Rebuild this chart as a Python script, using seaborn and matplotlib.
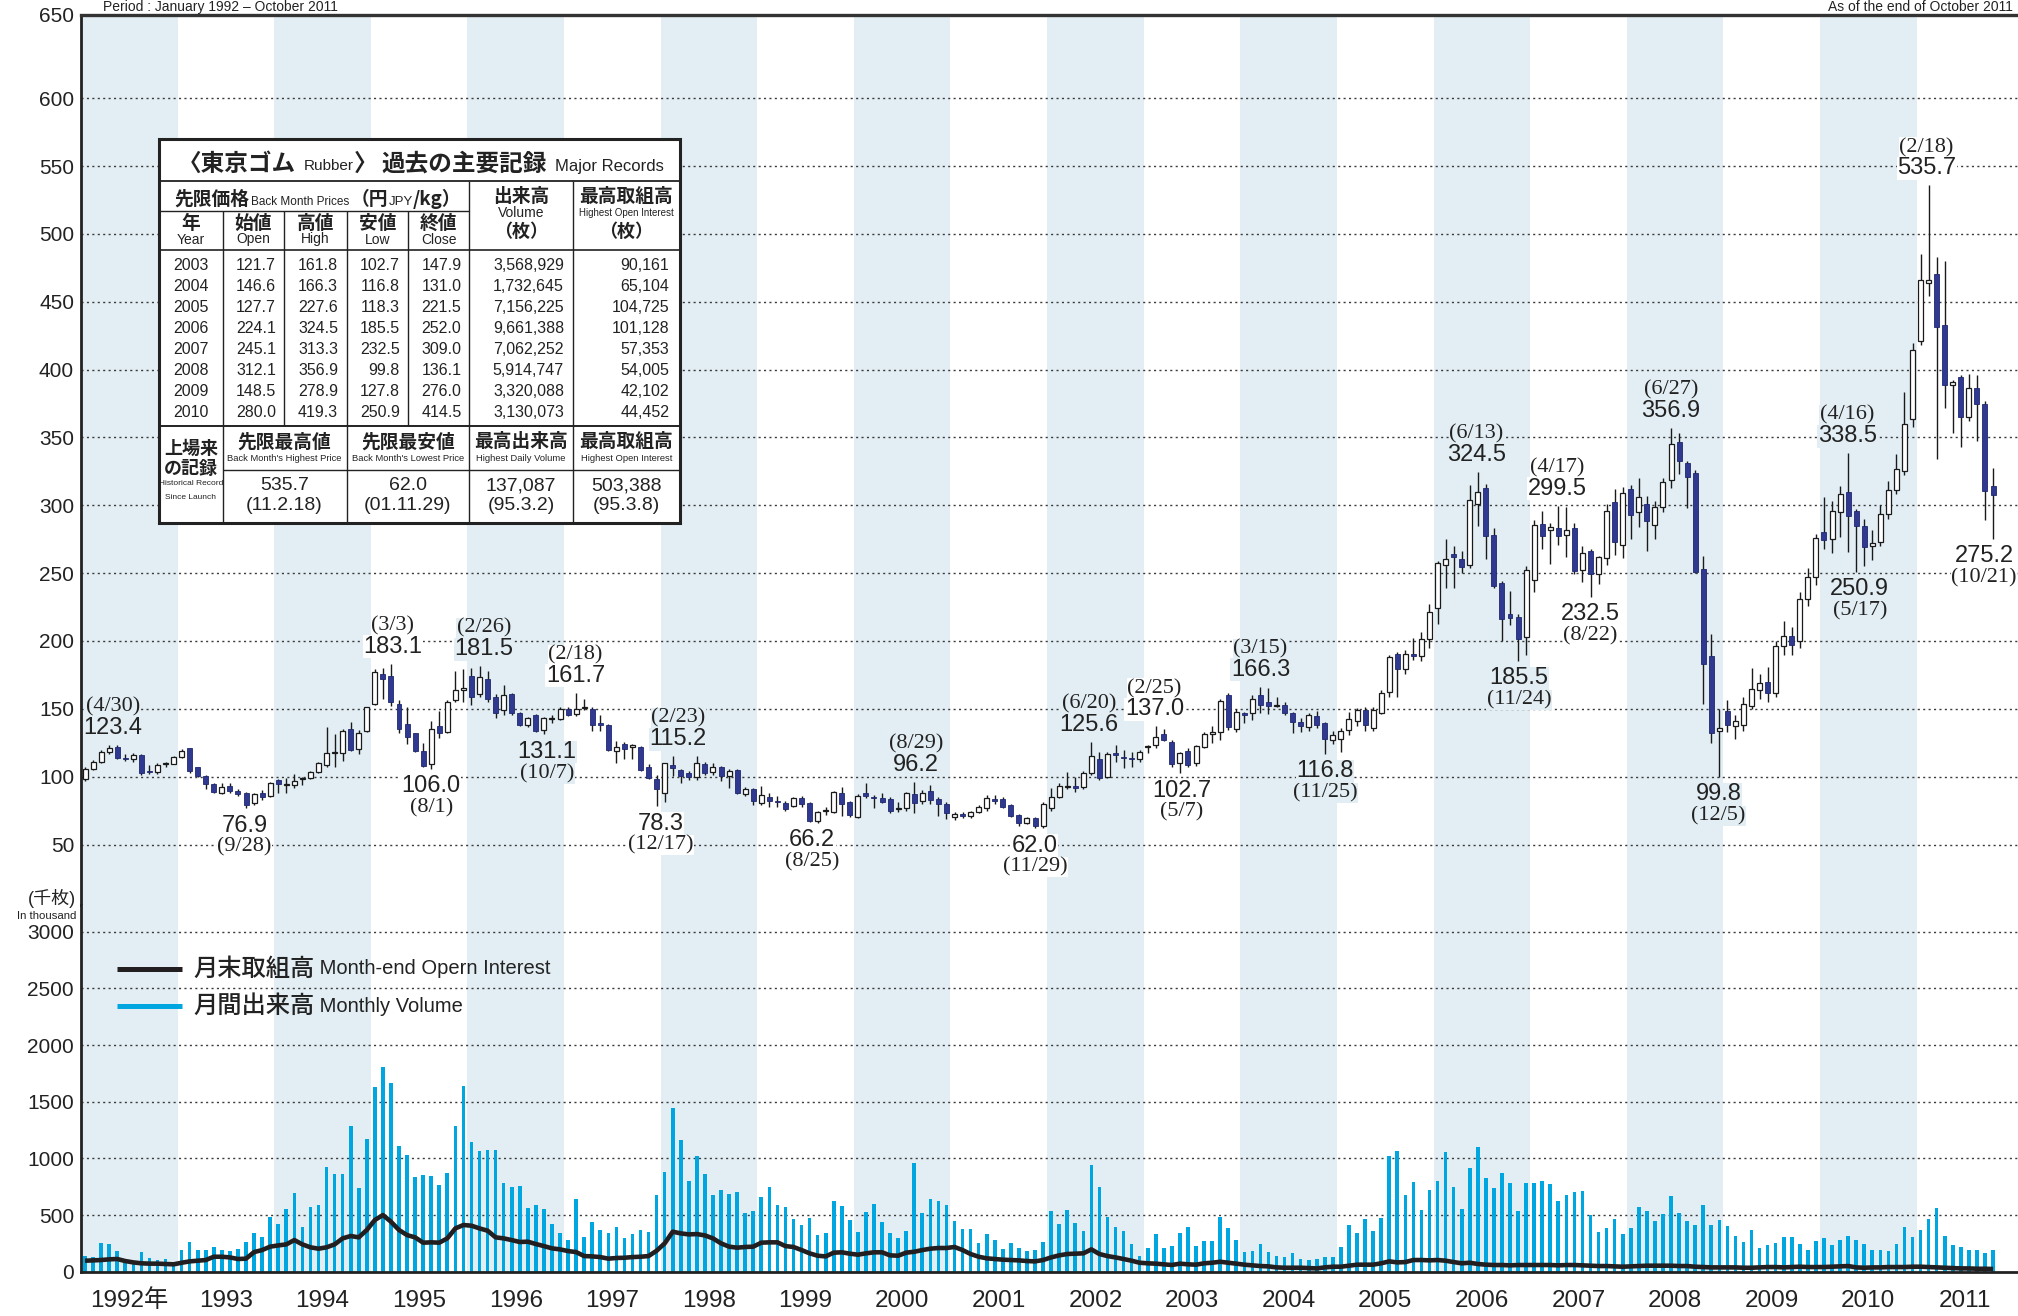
import matplotlib
matplotlib.use("Agg")
import matplotlib.pyplot as plt
from matplotlib import font_manager
from matplotlib.patches import Rectangle
import numpy as np
import seaborn as sns

# ---------------- data (monthly, Jan 1992 - Oct 2011) ----------------
years = list(range(1992, 2012))

opens = [
    98.0, 106.0, 110.5, 118.0, 122.0, 113.5, 112.7, 115.9, 104.0, 103.7, 109.3, 109.3,   # 1992
    114.7, 120.8, 106.9, 100.5, 94.6, 88.2, 93.1, 89.7, 88.2, 80.4, 88.2, 85.8,          # 1993
    97.5, 93.9, 93.6, 98.3, 98.8, 103.7, 108.6, 117.2, 117.2, 134.8, 120.1, 133.6,       # 1994
    153.4, 175.5, 174.3, 153.4, 138.7, 131.9, 119.1, 109.1, 137.2, 133.1, 156.8, 163.7,  # 1995
    174.0, 160.8, 172.3, 158.8, 149.0, 161.3, 147.1, 138.0, 145.3, 134.3, 142.6, 142.4,  # 1996
    149.7, 146.1, 150.4, 149.7, 139.7, 138.2, 119.1, 123.8, 122.0, 122.0, 106.9, 98.0,   # 1997
    88.2, 108.6, 104.9, 102.5, 99.5, 109.3, 103.2, 106.9, 100.5, 104.9, 87.3, 90.7,      # 1998
    80.4, 85.3, 81.7, 80.4, 78.7, 84.1, 80.4, 67.7, 74.8, 74.3, 88.2, 81.1,              # 1999
    70.1, 87.7, 84.7, 84.6, 83.3, 76.5, 76.7, 87.0, 82.4, 89.7, 83.3, 79.9,              # 2000
    70.6, 72.3, 71.1, 74.3, 76.7, 83.6, 83.3, 79.2, 71.8, 66.2, 69.4, 63.3,              # 2001
    76.7, 85.3, 92.4, 93.1, 92.6, 102.9, 112.7, 100.0, 117.2, 114.2, 113.5, 112.7,       # 2002
    121.7, 123.3, 131.1, 125.7, 110.3, 119.1, 109.8, 122.0, 131.1, 132.6, 160.0, 135.5,  # 2003
    146.6, 146.6, 160.5, 155.1, 152.3, 153.2, 147.3, 140.4, 136.5, 145.0, 139.3, 127.0,  # 2004
    127.7, 134.2, 140.8, 149.3, 135.9, 147.2, 162.4, 190.6, 179.3, 190.6, 188.6, 201.3,  # 2005
    224.1, 256.2, 263.8, 260.4, 256.2, 301.3, 312.5, 277.9, 242.7, 219.6, 217.5, 202.7,  # 2006
    245.1, 286.4, 281.5, 283.4, 278.2, 282.9, 252.0, 266.0, 249.0, 261.2, 302.7, 271.1,  # 2007
    312.1, 294.8, 301.3, 285.8, 298.5, 319.0, 346.3, 331.4, 323.8, 253.4, 188.6, 134.0,  # 2008
    148.5, 137.0, 137.9, 152.0, 164.0, 169.7, 161.8, 196.5, 203.5, 200.0, 231.1, 247.0,  # 2009
    280.0, 275.2, 294.8, 310.0, 296.0, 285.0, 269.9, 272.8, 293.6, 311.3, 325.5, 363.5,  # 2010
    421.2, 464.0, 470.3, 433.0, 388.3, 394.3, 364.8, 386.4, 375.0, 314.5,                # 2011
]
highs = [
    107.0, 112.0, 120.0, 123.4, 123.0, 116.7, 117.2, 117.0, 108.5, 110.0, 111.0, 115.2,
    120.3, 121.3, 107.5, 101.0, 95.0, 95.1, 95.6, 90.7, 89.0, 88.0, 90.2, 96.3,
    98.0, 99.3, 102.0, 100.0, 104.5, 111.0, 136.3, 131.4, 134.8, 140.4, 134.3, 151.5,
    179.6, 180.0, 183.1, 156.4, 151.5, 132.5, 124.5, 141.2, 148.3, 156.8, 177.9, 179.0,
    180.0, 181.5, 178.0, 161.3, 167.4, 162.0, 148.0, 144.1, 146.0, 144.0, 145.3, 151.0,
    151.0, 161.7, 157.1, 151.0, 145.3, 139.0, 126.5, 125.7, 124.0, 122.8, 109.0, 101.2,
    110.3, 115.2, 106.0, 104.0, 115.0, 111.0, 110.3, 108.0, 106.0, 106.0, 92.2, 92.0,
    93.1, 87.8, 86.0, 82.0, 85.0, 86.0, 81.0, 75.0, 77.5, 89.7, 92.2, 82.0,
    87.0, 95.6, 86.5, 88.0, 85.0, 81.6, 89.0, 96.2, 90.0, 93.9, 85.0, 81.0,
    74.3, 74.0, 75.0, 79.0, 86.5, 86.5, 85.0, 80.0, 72.5, 70.5, 70.5, 81.0,
    91.4, 95.6, 103.7, 100.0, 104.0, 125.6, 118.4, 118.0, 123.3, 120.0, 118.0, 120.0,
    123.3, 137.0, 135.5, 127.0, 118.4, 121.0, 123.5, 133.0, 137.2, 157.5, 161.8, 150.0,
    147.6, 160.0, 166.3, 165.7, 158.8, 155.0, 148.0, 143.0, 147.0, 148.3, 140.5, 134.0,
    136.0, 147.6, 150.5, 151.0, 151.0, 164.0, 190.0, 192.0, 193.0, 202.5, 206.5, 227.6,
    259.0, 275.0, 270.0, 266.0, 314.6, 324.5, 316.0, 283.0, 244.0, 237.0, 220.0, 255.0,
    289.0, 296.0, 287.0, 299.5, 299.0, 287.0, 270.0, 268.0, 263.0, 301.0, 312.0, 313.3,
    315.0, 320.0, 307.0, 303.0, 320.0, 356.9, 353.0, 333.0, 326.0, 263.0, 205.0, 150.0,
    156.8, 145.5, 159.0, 180.2, 176.0, 181.0, 200.0, 214.8, 210.0, 236.0, 254.0, 278.9,
    306.4, 303.0, 314.0, 338.5, 297.0, 290.0, 282.0, 300.0, 318.0, 338.0, 383.2, 419.3,
    485.0, 535.7, 483.0, 480.0, 392.0, 396.0, 397.0, 396.0, 377.0, 327.5,
]
lows = [
    97.0, 105.0, 110.0, 117.0, 113.0, 111.8, 110.5, 101.0, 102.0, 102.0, 107.4, 109.0,
    114.0, 102.9, 99.5, 91.2, 87.8, 87.5, 88.0, 86.0, 76.9, 79.0, 82.9, 85.0,
    87.8, 87.8, 92.0, 93.6, 98.0, 103.0, 107.4, 107.4, 111.8, 119.0, 116.7, 133.0,
    152.7, 157.6, 151.9, 131.9, 124.0, 118.4, 107.4, 106.0, 128.2, 131.9, 155.1, 155.0,
    152.7, 158.8, 155.1, 143.6, 145.3, 145.3, 137.2, 136.8, 133.0, 131.1, 139.7, 141.6,
    144.6, 145.0, 149.0, 133.8, 133.8, 119.0, 109.8, 112.7, 112.7, 104.4, 98.5, 78.3,
    81.1, 100.5, 95.6, 97.5, 97.5, 101.0, 101.0, 96.8, 91.4, 87.3, 86.0, 79.2,
    79.0, 77.5, 78.0, 75.0, 78.0, 78.0, 66.8, 66.2, 71.8, 73.0, 71.1, 70.0,
    69.4, 84.6, 76.7, 80.4, 73.0, 74.3, 75.0, 73.0, 80.0, 80.0, 71.1, 68.6,
    68.2, 69.5, 69.6, 73.0, 75.0, 79.6, 77.0, 70.0, 64.0, 65.0, 62.0, 62.5,
    75.0, 84.0, 90.7, 89.0, 90.7, 101.0, 97.5, 99.0, 111.0, 106.1, 107.4, 111.0,
    117.2, 121.0, 126.0, 107.0, 102.7, 107.0, 108.0, 121.0, 125.0, 127.4, 134.5, 133.0,
    139.2, 142.0, 147.0, 146.0, 151.0, 145.6, 131.9, 133.0, 134.0, 136.0, 116.8, 124.0,
    118.3, 131.0, 137.0, 134.0, 134.0, 146.0, 158.4, 159.0, 176.0, 186.0, 185.0, 195.0,
    212.5, 239.3, 239.0, 250.0, 254.0, 285.0, 260.4, 239.0, 199.9, 212.0, 185.5, 190.0,
    236.0, 268.0, 257.0, 271.0, 262.0, 249.0, 243.5, 232.5, 242.0, 256.0, 263.2, 261.0,
    275.0, 284.0, 266.0, 275.0, 295.0, 313.0, 323.0, 298.0, 250.0, 153.4, 125.0, 99.8,
    133.0, 127.8, 134.0, 150.0, 157.0, 155.0, 159.0, 190.0, 190.0, 195.0, 226.0, 240.9,
    268.0, 264.7, 277.0, 265.4, 250.9, 255.0, 260.0, 270.0, 290.0, 308.0, 322.0, 358.0,
    418.0, 454.3, 334.1, 372.0, 353.0, 343.2, 362.0, 347.6, 289.2, 275.2,
]
closes = [
    106.0, 111.0, 118.4, 121.5, 113.5, 113.0, 115.9, 102.9, 103.8, 108.6, 109.5, 114.2,
    119.1, 104.4, 100.5, 94.6, 88.5, 92.2, 89.5, 87.0, 79.4, 87.0, 85.3, 95.6,
    94.6, 94.0, 97.1, 98.8, 103.2, 109.8, 117.2, 117.4, 133.6, 119.6, 132.3, 151.0,
    177.2, 171.8, 155.1, 135.5, 128.9, 119.1, 108.1, 135.5, 131.9, 155.1, 163.7, 165.7,
    158.8, 173.6, 157.6, 146.6, 160.5, 147.1, 138.0, 142.9, 133.8, 142.9, 143.0, 149.7,
    145.3, 150.2, 150.9, 138.0, 138.2, 119.6, 122.0, 120.1, 123.3, 104.9, 99.3, 90.9,
    109.8, 106.1, 100.7, 99.5, 109.8, 102.9, 107.4, 100.5, 104.2, 87.7, 90.9, 82.4,
    86.5, 82.4, 81.4, 76.0, 84.1, 79.9, 67.7, 74.3, 75.1, 88.5, 79.9, 71.8,
    86.0, 86.0, 84.4, 81.1, 75.0, 76.9, 88.2, 80.4, 87.7, 82.8, 79.9, 73.0,
    72.3, 71.1, 74.3, 77.5, 84.1, 82.4, 78.0, 71.3, 65.7, 69.4, 63.3, 79.9,
    85.3, 93.4, 92.8, 91.9, 102.9, 115.2, 98.8, 116.7, 115.9, 113.5, 112.7, 118.4,
    122.8, 129.4, 127.0, 109.1, 117.2, 108.6, 122.8, 131.1, 132.6, 155.9, 136.3, 147.9,
    145.8, 157.6, 152.7, 152.2, 152.5, 147.3, 140.4, 137.0, 145.5, 138.0, 127.5, 131.0,
    134.0, 142.7, 149.3, 137.9, 149.3, 161.9, 188.0, 179.3, 190.6, 188.6, 201.3, 221.5,
    257.6, 260.4, 261.8, 254.8, 304.1, 309.7, 277.3, 240.7, 215.9, 216.8, 201.3, 252.0,
    285.8, 277.3, 284.2, 277.3, 281.5, 251.9, 264.6, 249.0, 261.8, 295.6, 273.1, 309.0,
    292.8, 306.1, 288.2, 298.5, 317.3, 345.5, 332.3, 321.0, 250.6, 183.0, 132.0, 136.1,
    138.0, 140.7, 153.9, 164.6, 168.8, 161.8, 196.2, 203.5, 197.0, 231.1, 247.0, 276.0,
    274.5, 296.0, 308.3, 292.4, 284.5, 269.0, 272.3, 293.6, 311.3, 326.8, 359.9, 414.5,
    465.8, 465.8, 431.5, 388.8, 390.7, 364.8, 386.4, 375.0, 310.3, 307.6,
]
# monthly volume, thousand contracts
volume = [
    138, 129, 253, 244, 182, 74, 65, 173, 121, 103, 112, 50,
    191, 262, 191, 191, 218, 191, 182, 200, 262, 341, 306, 485,
    420, 553, 694, 394, 570, 588, 923, 862, 862, 1285, 738, 1170,
    1629, 1806, 1665, 1109, 1029, 835, 853, 844, 765, 870, 1285, 1638,
    1144, 1065, 1073, 1073, 782, 747, 756, 562, 588, 553, 420, 341,
    279, 641, 306, 438, 368, 341, 394, 297, 332, 368, 350, 676,
    879, 1444, 1162, 800, 1020, 862, 676, 720, 685, 703, 518, 535,
    662, 747, 588, 570, 465, 412, 473, 323, 341, 623, 579, 456,
    350, 526, 597, 438, 341, 297, 359, 959, 518, 641, 623, 588,
    447, 376, 376, 253, 332, 279, 200, 253, 209, 182, 191, 262,
    535, 420, 544, 429, 359, 941, 747, 482, 394, 359, 244, 138,
    209, 332, 209, 226, 341, 394, 226, 270, 270, 482, 385, 279,
    173, 182, 244, 173, 138, 129, 165, 112, 103, 112, 129, 129,
    218, 412, 341, 465, 359, 473, 1020, 1065, 676, 791, 544, 720,
    800, 1056, 747, 553, 915, 1100, 826, 738, 870, 782, 535, 782,
    782, 800, 773, 623, 676, 703, 712, 500, 350, 385, 465, 332,
    385, 570, 535, 447, 509, 668, 518, 447, 412, 588, 412, 456,
    403, 315, 262, 368, 209, 235, 253, 306, 306, 244, 191, 270,
    297, 235, 279, 315, 279, 244, 191, 191, 182, 244, 394, 306,
    368, 465, 562, 315, 235, 218, 191, 191, 165, 191,
]
# month-end open interest, thousand contracts
open_interest = [
    97, 100, 103, 109, 112, 94, 82, 74, 71, 71, 68, 65,
    79, 91, 97, 103, 132, 132, 126, 112, 115, 173, 191, 221,
    232, 241, 279, 241, 215, 203, 215, 241, 294, 315, 303, 368,
    456, 500, 441, 368, 323, 303, 256, 259, 256, 294, 382, 412,
    406, 382, 362, 303, 294, 279, 262, 265, 244, 226, 206, 197,
    182, 173, 138, 135, 129, 115, 121, 123, 129, 132, 138, 185,
    250, 353, 338, 329, 332, 320, 294, 250, 221, 212, 218, 221,
    256, 259, 259, 226, 218, 191, 162, 141, 135, 168, 171, 159,
    150, 162, 171, 171, 144, 141, 168, 176, 191, 203, 209, 209,
    218, 191, 156, 132, 118, 112, 106, 103, 100, 94, 91, 103,
    126, 144, 156, 159, 162, 197, 156, 138, 126, 112, 97, 79,
    74, 71, 65, 59, 71, 65, 62, 74, 79, 88, 79, 71,
    62, 56, 50, 47, 38, 35, 35, 35, 32, 29, 38, 44,
    44, 53, 62, 62, 62, 74, 91, 82, 85, 103, 103, 100,
    103, 97, 85, 74, 79, 68, 62, 59, 59, 56, 59, 59,
    59, 59, 59, 56, 59, 59, 56, 53, 50, 50, 47, 44,
    47, 50, 53, 53, 53, 53, 50, 50, 44, 41, 38, 38,
    38, 38, 35, 35, 38, 41, 41, 38, 41, 44, 41, 41,
    41, 44, 47, 50, 38, 35, 38, 38, 41, 41, 41, 44,
    44, 41, 38, 35, 32, 29, 29, 26, 26, 24,
]

# highs / lows picked out on the chart (month index, kind, date)
ann_month = [3, 20, 38, 43, 49, 57, 61, 73, 71, 91, 103, 118, 125, 133, 136, 146, 154,
             173, 178, 183, 187, 197, 203, 219, 220, 229, 237]
ann_kind = ['hi', 'lo', 'hi', 'lo', 'hi', 'lo', 'hi', 'hi', 'lo', 'lo', 'hi', 'lo', 'hi', 'hi',
            'lo', 'hi', 'lo', 'hi', 'lo', 'hi', 'lo', 'hi', 'lo', 'hi', 'lo', 'hi', 'lo']
ann_date = ['4/30', '9/28', '3/3', '8/1', '2/26', '10/7', '2/18', '2/23', '12/17', '8/25',
            '8/29', '11/29', '6/20', '2/25', '5/7', '3/15', '11/25', '6/13', '11/24', '4/17',
            '8/22', '6/27', '12/5', '4/16', '5/17', '2/18', '10/21']
ann_dx = [4, -1.5, 1.6, 0, 4.5, 3, -0.7, 5.6, 3.7, -5.5, 2, 0, -2.5, -1.3, 1.7, 0, 0,
          -1.5, 0.8, -1, 0, 0, -1, -1, 3.6, -2, -9]

# record table
tbl_year = [2003, 2004, 2005, 2006, 2007, 2008, 2009, 2010]
tbl_open = [121.7, 146.6, 127.7, 224.1, 245.1, 312.1, 148.5, 280.0]
tbl_high = [161.8, 166.3, 227.6, 324.5, 313.3, 356.9, 278.9, 419.3]
tbl_low = [102.7, 116.8, 118.3, 185.5, 232.5, 99.8, 127.8, 250.9]
tbl_close = [147.9, 131.0, 221.5, 252.0, 309.0, 136.1, 276.0, 414.5]
tbl_volume = [3568929, 1732645, 7156225, 9661388, 7062252, 5914747, 3320088, 3130073]
tbl_oi = [90161, 65104, 104725, 101128, 57353, 54005, 42102, 44452]
rec_head = ['先限最高値', '先限最安値', '最高出来高', '最高取組高']
rec_sub = ["Back Month's Highest Price", "Back Month's Lowest Price",
           'Highest Daily Volume', 'Highest Open Interest']
rec_value = ['535.7', '62.0', '137,087', '503,388']
rec_date = ['(11.2.18)', '(01.11.29)', '(95.3.2)', '(95.3.8)']

# ---------------- style ----------------
sns.set_style("white")
SANS = ['Liberation Sans', 'Noto Sans CJK JP', 'DejaVu Sans']
CJK = ['Noto Sans CJK JP', 'Liberation Sans', 'DejaVu Sans']
SERIF = ['Liberation Serif', 'DejaVu Serif']

# narrow face for the small English captions, if there is one
names = {f.name for f in font_manager.fontManager.ttflist}
if 'Liberation Sans Narrow' in names:
    NARROW, nk = ['Liberation Sans Narrow', 'Noto Sans CJK JP'], 1.0
else:
    NARROW, nk = SANS, 0.82
plt.rcParams['font.family'] = SANS

BAND = '#e2eef4'
BLUE_BAR = '#00a6df'
CANDLE = '#2f3990'
INK = '#231f20'
GRID = '#3a3a3a'

W, H = 2018, 1316
fig = plt.figure(figsize=(W / 100, H / 100), dpi=100)
x0, top_y, split_y, base_y = 81, 15, 905, 1271.7
ax1 = fig.add_axes([x0 / W, 1 - split_y / H, (W - x0) / W, (split_y - top_y) / H])
ax2 = fig.add_axes([x0 / W, 1 - base_y / H, (W - x0) / W, (base_y - split_y) / H])

n = len(closes)
xs = np.arange(n) + 0.5
o, hi_, lo_, c = map(np.array, (opens, highs, lows, closes))

for ax in (ax1, ax2):
    for k in range(0, len(years), 2):
        ax.axvspan(12 * k, 12 * k + 12, color=BAND, lw=0, zorder=0)

for v in range(50, 601, 50):
    ax1.axhline(v, color=GRID, lw=1.0, ls=(0, (1.5, 2.4)), zorder=1)
for v in range(500, 3001, 500):
    ax2.axhline(v, color=GRID, lw=1.0, ls=(0, (1.5, 2.4)), zorder=1)

# ---------------- candles ----------------
up = c >= o
body_lo = np.minimum(o, c)
body_h = np.maximum(np.abs(c - o), 0.7)
ax1.vlines(xs, lo_, hi_, color='#1a1a1a', lw=1.0, zorder=3)
ax1.bar(xs[up], body_h[up], bottom=body_lo[up], width=0.62, color='white',
        edgecolor='#1a1a1a', linewidth=0.9, zorder=4)
ax1.bar(xs[~up], body_h[~up], bottom=body_lo[~up], width=0.62, color=CANDLE,
        edgecolor='#1f276e', linewidth=0.6, zorder=4)

for m, kind, date, dx in zip(ann_month, ann_kind, ann_date, ann_dx):
    v = highs[m] if kind == 'hi' else lows[m]
    bg = BAND if (m // 12) % 2 == 0 else 'white'
    box = dict(boxstyle='square,pad=0.02', fc=bg, ec='none')
    if kind == 'hi':
        d_date, d_val = 38, 17
    else:
        d_date, d_val = -39, -17.5
    ax1.annotate(f'({date})', xy=(m + 0.5, v), xytext=(dx, d_date), textcoords='offset pixels',
                 ha='center', va='center', fontsize=16, family=SERIF, color='#222',
                 bbox=box, zorder=7)
    ax1.annotate(f'{v:.1f}', xy=(m + 0.5, v), xytext=(dx, d_val), textcoords='offset pixels',
                 ha='center', va='center', fontsize=17, color='#222', bbox=box, zorder=8)

# ---------------- volume & open interest ----------------
sns.barplot(x=xs, y=volume, native_scale=True, width=0.45, color=BLUE_BAR, saturation=1,
            linewidth=0, errorbar=None, ax=ax2, zorder=2)
sns.lineplot(x=xs, y=open_interest, ax=ax2, color=INK, linewidth=3.3, legend=False,
             zorder=5, solid_capstyle='butt')

# ---------------- axes ----------------
XMAX = 240.6
ax1.set_xlim(0, XMAX)
ax2.set_xlim(0, XMAX)
ax1.set_ylim(5.45, 661.3)
ax2.set_ylim(0, 3235.4)

pticks = list(range(50, 601, 50))
ax1.set_yticks(pticks + [661.3])
ax1.set_yticklabels([str(t) for t in pticks] + ['650'])
ax1.set_xticks([])
ax2.set_yticks(range(0, 3001, 500))
ax2.set_yticklabels([str(t) for t in range(0, 3001, 500)])
for ax in (ax1, ax2):
    ax.tick_params(axis='y', length=0, pad=5, labelsize=15, labelcolor='#222')
    ax.set_xlabel('')
    ax.set_ylabel('')
    ax.grid(False)
    ax.spines['right'].set_visible(False)
    ax.spines['left'].set_linewidth(2.0)
    ax.spines['left'].set_color('#222')
ax1.spines['bottom'].set_visible(False)
ax1.spines['top'].set_linewidth(2.4)
ax1.spines['top'].set_color('#333')
ax2.spines['top'].set_visible(False)
ax2.spines['bottom'].set_linewidth(2.0)
ax2.spines['bottom'].set_color('#222')

ax2.set_xticks([12 * k for k in range(len(years))])
ax2.set_xticklabels([])
ax2.tick_params(axis='x', direction='out', length=30.5, width=1.5, color='#222')
for k, yr in enumerate(years):
    ax2.text(12 * k + 6, -0.079, f'{yr}年' if k == 0 else str(yr),
             transform=ax2.get_xaxis_transform(), ha='center', va='center',
             fontsize=17.5, color='#222')

# legend
ax2.plot([0.0186, 0.0521], [0.8255, 0.8255], transform=ax2.transAxes, color=INK, lw=3.6,
         solid_capstyle='butt', zorder=8)
ax2.plot([0.0186, 0.0521], [0.7245, 0.7245], transform=ax2.transAxes, color=BLUE_BAR, lw=3.6,
         solid_capstyle='butt', zorder=8)
t1 = ax2.text(0.0578, 0.8255, '月末取組高', transform=ax2.transAxes, fontsize=17.5, family=CJK,
              fontweight='medium', va='center', ha='left', color='#222')
ax2.annotate(' Month-end Opern Interest', xy=(1, 0.5), xycoords=t1, va='center', ha='left',
             fontsize=14.5, color='#222')
t2 = ax2.text(0.0578, 0.7245, '月間出来高', transform=ax2.transAxes, fontsize=17.5, family=CJK,
              fontweight='medium', va='center', ha='left', color='#222')
ax2.annotate(' Monthly Volume', xy=(1, 0.5), xycoords=t2, va='center', ha='left',
             fontsize=14.5, color='#222')

fig.text(76 / W, 1 - 898 / H, '(千枚)', ha='right', va='center', fontsize=13, color='#222')
fig.text(76 / W, 1 - 916 / H, 'In thousand', ha='right', va='center', fontsize=10 * nk,
         family=NARROW, color='#222')
# header lines sit in the thin strip above the frame
fig.text(103 / W, 1 - 11 / H, 'Period : January 1992 – October 2011', ha='left',
         va='baseline', fontsize=10, color='#222')
fig.text(2013 / W, 1 - 11 / H, 'As of the end of October 2011', ha='right', va='baseline',
         fontsize=10, color='#222')

# ---------------- record table ----------------
tab = fig.add_axes([159 / W, 1 - 523 / H, 521 / W, 384 / H])
tab.set_xlim(0, 521)
tab.set_ylim(384, 0)
tab.axis('off')
tab.add_patch(Rectangle((0, 0), 521, 384, fc='white', ec='none', zorder=0))
LC = '#222'


def hl(y, a, b, lw=1.0):
    tab.plot([a, b], [y, y], color=LC, lw=lw, solid_capstyle='butt', clip_on=False)


def vl(x, a, b, lw=1.0):
    tab.plot([x, x], [a, b], color=LC, lw=lw, solid_capstyle='butt', clip_on=False)


cols = [0, 63.6, 125.4, 187.6, 249.4, 310.2, 413.9, 520.7]
mid = [(cols[j] + cols[j + 1]) / 2 for j in range(7)]
hl(42, 0, 521, 1.3)
hl(72, 0, 310.2)
hl(111, 0, 521, 1.2)
hl(287, 0, 521, 1.4)
hl(331, 63.6, 521)
vl(310.2, 42, 287)
vl(413.9, 42, 287)
for cx in cols[1:5]:
    vl(cx, 72, 287)
for cx in [63.6, 187.6, 310.2, 413.9]:
    vl(cx, 287, 384)
tab.add_patch(Rectangle((0, 0), 521, 384, fc='none', ec=LC, lw=2.2, zorder=5, clip_on=False))

renderer = fig.canvas.get_renderer()


def chain(xc, y, pieces):
    arts, gaps = [], []
    for s, fs, kw, gap in pieces:
        arts.append(tab.text(0, y, s, fontsize=fs, va='baseline', ha='left', color='#222', **kw))
        gaps.append(gap)
    widths = [a.get_window_extent(renderer).width for a in arts]
    x = xc - (sum(widths) + sum(gaps[:-1])) / 2
    for a, w, g in zip(arts, widths, gaps):
        a.set_x(x)
        x += w + g


B = dict(family=CJK, fontweight='bold')
chain(262, 31.5, [('〈東京ゴム', 17, B, 8), ('Rubber', 11, {}, 0), ('〉', 17, B, 4),
                  ('過去の主要記録', 17, B, 8), ('Major Records', 12, {}, 0)])
chain(159, 66, [('先限価格', 13.5, B, 1), ('Back Month Prices', 8.5, {}, 2),
                ('（円', 13.5, B, 0), ('JPY', 9.5, {}, 0), ('/kg）', 13.5, B, 0)])

for xc, head in ((mid[5], '出来高'), (mid[6], '最高取組高')):
    tab.text(xc, 57.7, head, ha='center', va='center', fontsize=13.5, color='#222', **B)
    tab.text(xc, 92.7, '（枚）', ha='center', va='center', fontsize=13, color='#222', **B)
tab.text(mid[5], 74.3, 'Volume', ha='center', va='center', fontsize=10, color='#222')
tab.text(mid[6], 74.3, 'Highest Open Interest', ha='center', va='center', fontsize=8.6 * nk,
         family=NARROW, color='#222')

for j, (jp, en) in enumerate([('年', 'Year'), ('始値', 'Open'), ('高値', 'High'),
                              ('安値', 'Low'), ('終値', 'Close')]):
    tab.text(mid[j], 84.3, jp, ha='center', va='center', fontsize=13.5, color='#222', **B)
    tab.text(mid[j], 100.5, en, ha='center', va='center', fontsize=10, color='#222')

right_edge = [117, 179, 241, 302.5, 405, 510.5]
for r in range(len(tbl_year)):
    y = 126.7 + r * 20.95
    tab.text(mid[0], y, str(tbl_year[r]), ha='center', va='center', fontsize=11.5, color='#222')
    vals = [f'{tbl_open[r]:.1f}', f'{tbl_high[r]:.1f}', f'{tbl_low[r]:.1f}',
            f'{tbl_close[r]:.1f}', f'{tbl_volume[r]:,}', f'{tbl_oi[r]:,}']
    for xr, s in zip(right_edge, vals):
        tab.text(xr, y, s, ha='right', va='center', fontsize=11.5, color='#222')

tab.text(mid[0], 309.3, '上場来', ha='center', va='center', fontsize=13, color='#222', **B)
tab.text(mid[0], 329.3, 'の記録', ha='center', va='center', fontsize=13, color='#222', **B)
tab.text(mid[0], 344.3, 'Historical Record', ha='center', va='center', fontsize=7.4 * nk,
         family=NARROW, color='#222')
tab.text(mid[0], 358.7, 'Since Launch', ha='center', va='center', fontsize=7.4 * nk,
         family=NARROW, color='#222')
rec_x = [125.6, 248.9, mid[5], mid[6]]
for xc, hd, sb, val, dt in zip(rec_x, rec_head, rec_sub, rec_value, rec_date):
    tab.text(xc, 302.7, hd, ha='center', va='center', fontsize=13.5, color='#222', **B)
    tab.text(xc, 319.3, sb, ha='center', va='center', fontsize=8.2 * nk, family=NARROW,
             color='#222')
    tab.text(xc, 347, val, ha='center', va='center', fontsize=14, color='#222')
    tab.text(xc, 366, dt, ha='center', va='center', fontsize=14, color='#222')

fig.savefig('out.png', dpi=100)
